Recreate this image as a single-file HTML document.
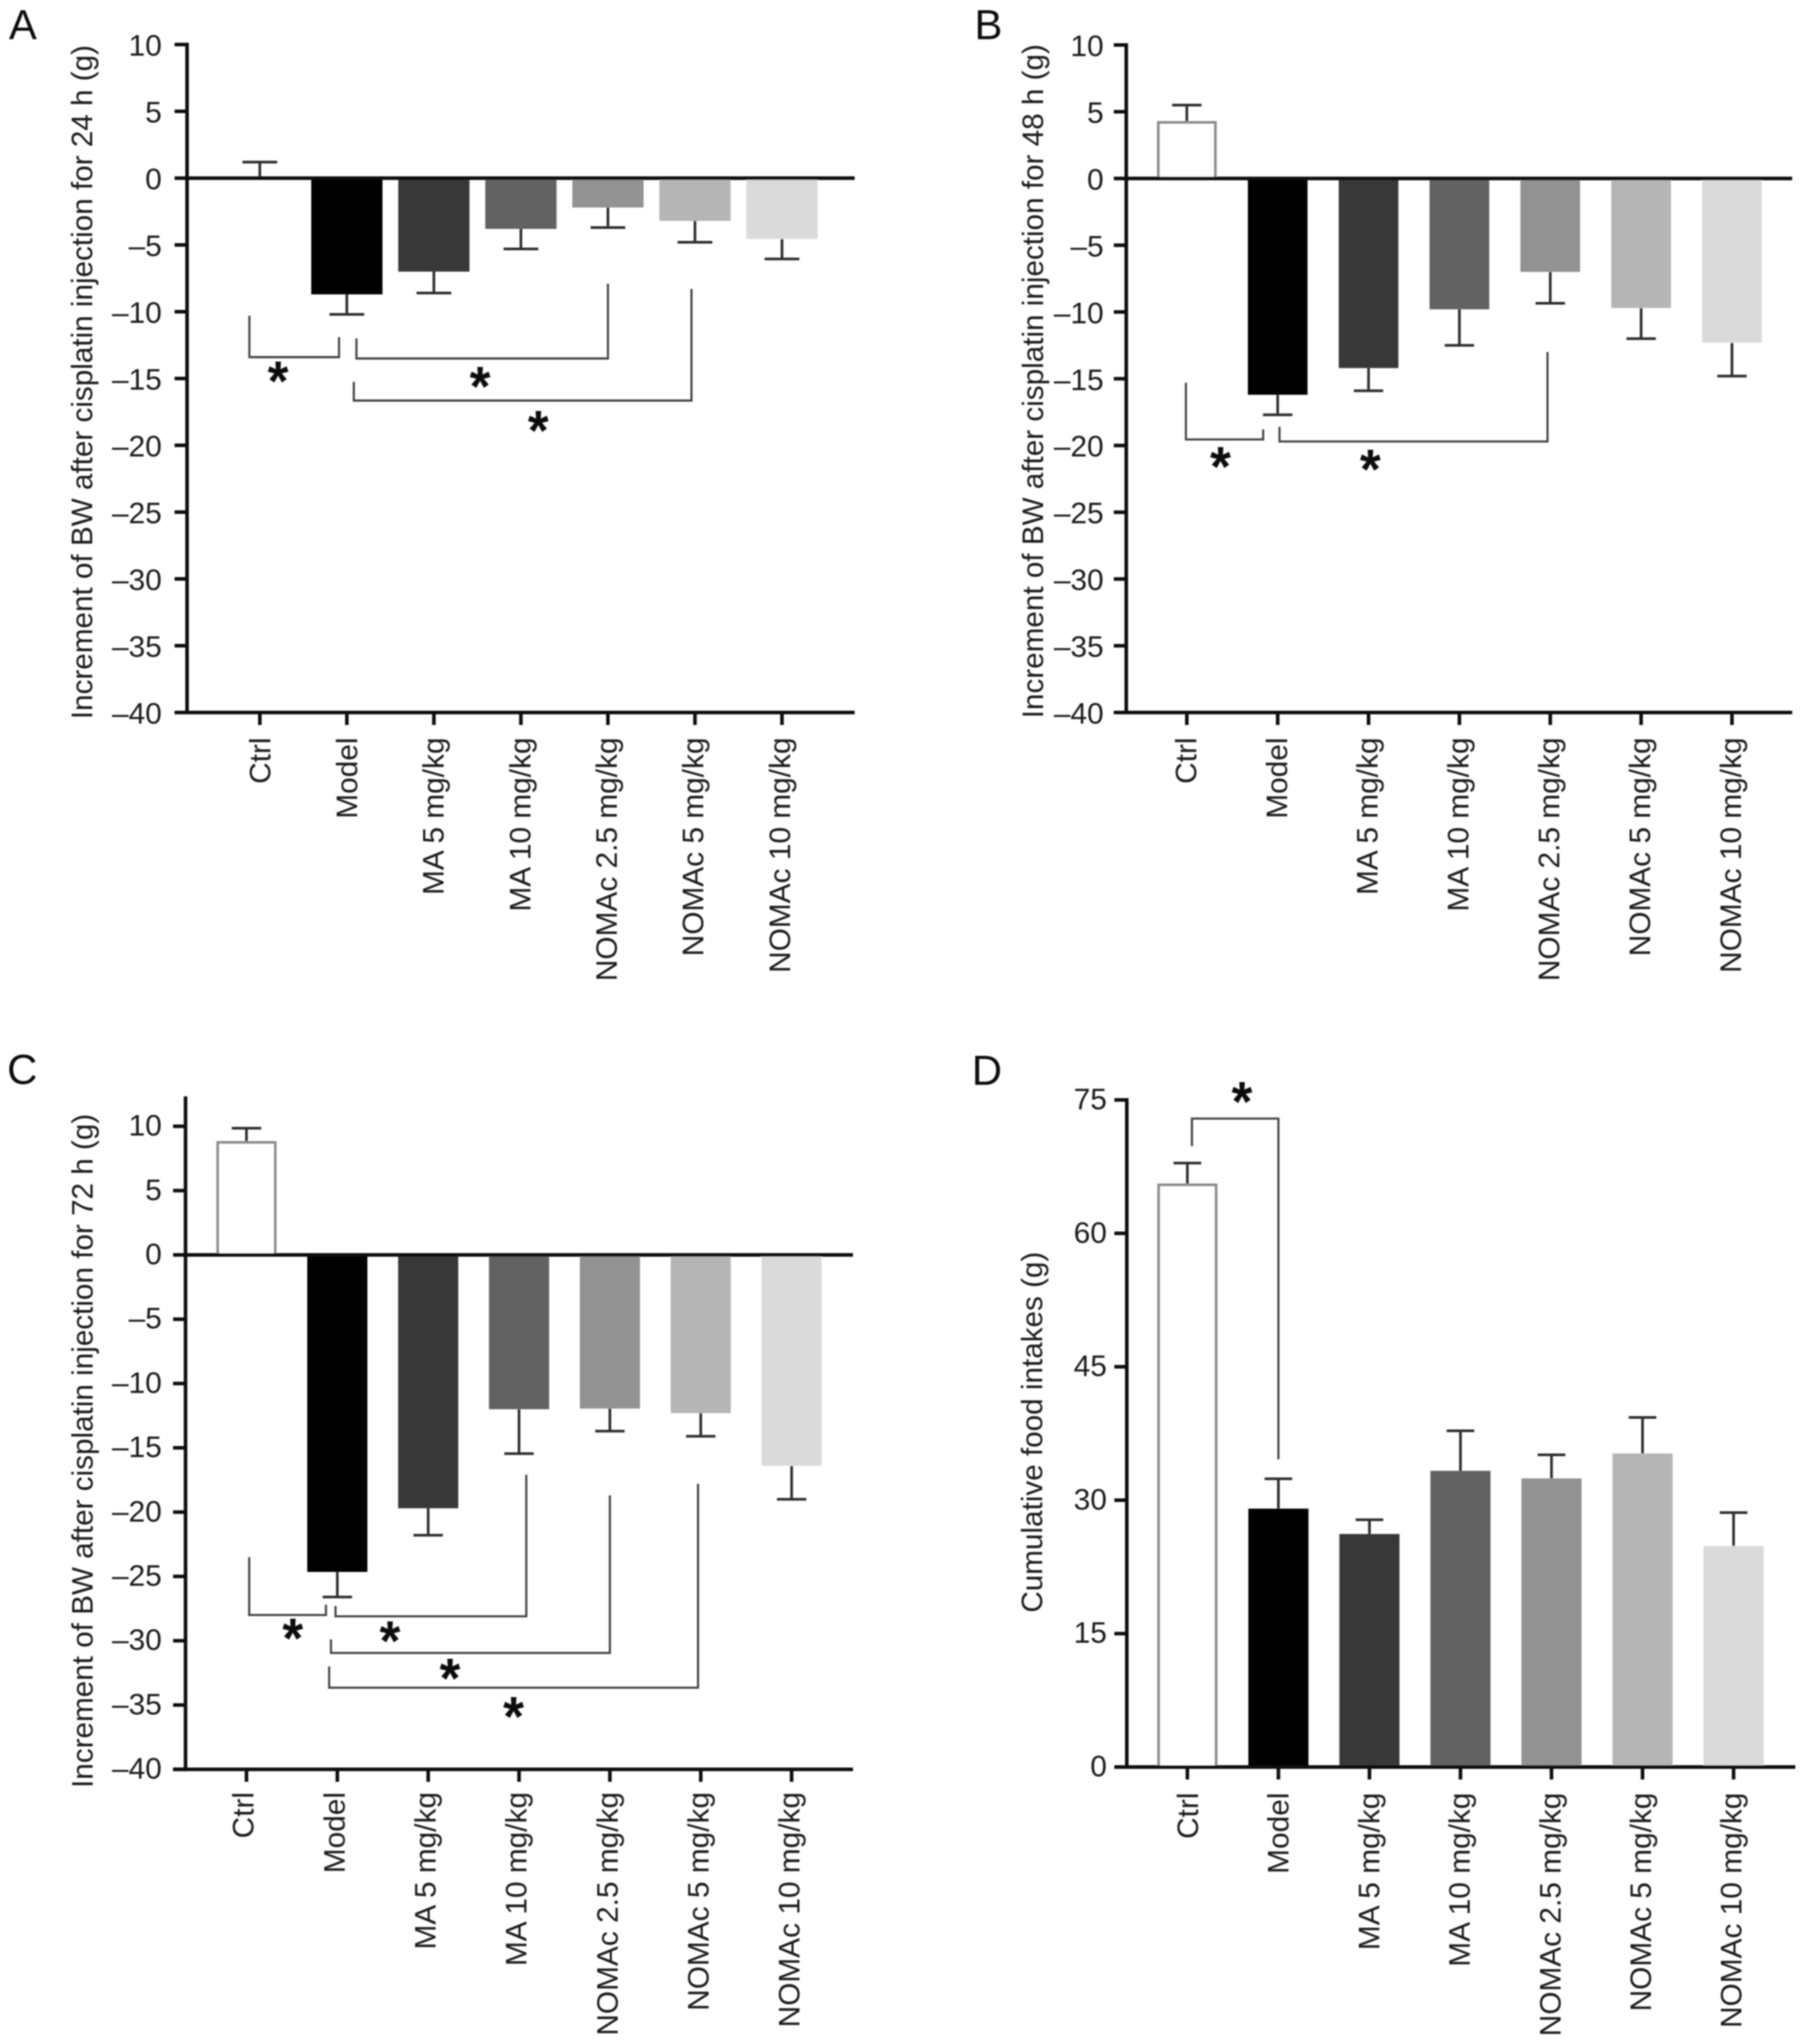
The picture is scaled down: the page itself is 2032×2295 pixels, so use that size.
<!DOCTYPE html>
<html lang="en">
<head>
<meta charset="utf-8">
<title>Body weight and food intake bar charts</title>
<style>
html,body{margin:0;padding:0;background:#fff;}
svg{display:block;font-family:"Liberation Sans",Arial,sans-serif;}
</style>
</head>
<body>
<svg id="figure" xmlns="http://www.w3.org/2000/svg" width="2032" height="2295" viewBox="0 0 2032 2295">
<defs><filter id="soft" x="0" y="0" width="100%" height="100%"><feGaussianBlur stdDeviation="0.7"/></filter></defs>
<rect width="2032" height="2295" fill="#fff"/>
<g id="root" filter="url(#soft)"></g>
</svg>
<script>
const categories = ['Ctrl','Model','MA 5 mg/kg','MA 10 mg/kg','NOMAc 2.5 mg/kg','NOMAc 5 mg/kg','NOMAc 10 mg/kg'];
const barFills = ['#ffffff','#000000','#383838','#626262','#929292','#b5b5b5','#dadada'];

const weightTicks = [10,5,0,-5,-10,-15,-20,-25,-30,-35,-40];
const foodTicks = [75,60,45,30,15,0];

const valuesA = [0,-8.7,-7.0,-3.8,-2.2,-3.2,-4.55];
const errorsA = [1.2,1.5,1.6,1.5,1.5,1.6,1.5];
const valuesB = [4.3,-16.2,-14.2,-9.8,-7.0,-9.7,-12.3];
const errorsB = [1.2,1.5,1.7,2.7,2.35,2.3,2.5];
const valuesC = [8.85,-24.65,-19.7,-12.0,-11.95,-12.3,-16.4];
const errorsC = [1.0,1.95,2.1,3.45,1.75,1.8,2.6];
const valuesD = [65.6,29.05,26.2,33.3,32.45,35.25,24.85];
const errorsD = [2.3,3.35,1.6,4.5,2.65,4.05,3.75];

/* significance brackets in chart units: [category start, value start, value bar, category end, value end] */
const bracketsA = [[-0.12,-10.3,-13.4,0.91,-11.9],[1.11,-12.0,-13.5,4.0,-7.9],[1.08,-15.25,-16.65,4.96,-8.3]];
const starsA = [[0.21,-14.6],[2.53,-15.0],[3.2,-18.3]];
const bracketsB = [[-0.01,-15.3,-19.55,0.84,-18.8],[1.02,-18.6,-19.7,3.97,-13.0]];
const starsB = [[0.37,-21.0],[2.02,-21.2]];
const bracketsC = [[0.03,-23.5,-28,0.875,-27.2],[0.98,-27.3,-28.1,3.08,-17.1],[0.93,-29.9,-30.95,4.0,-18.7],[0.91,-32,-33.65,4.97,-17.8]];
const starsC = [[0.51,-29.2],[1.58,-29.4],[2.24,-32.3],[2.94,-35.3]];
const bracketsD = [[0.05,69.8,72.9,1.0,34.6]];
const starsD = [[0.6,75.7]];

const panels = [
 {id:'a',letter:'A',lx:10,ly:44,title:'Increment of BW after cisplatin injection for 24 h (g)',tx:103.5,tc:429,
  values:valuesA,errors:errorsA,brackets:bracketsA,stars:starsA,ticks:weightTicks,dMin:-40,dMax:10,
  pxBottom:800,pxTop:50,axisTop:50,axisX:210,xEnd:959.5,x0:291.7,step:97.7,barW:80,cap:39,labelRight:181.7,tickDrop:12.5,labelTop:828,shiftFirst:12,shiftLast:9,zeroLine:true},
 {id:'b',letter:'B',lx:1094,ly:44,title:'Increment of BW after cisplatin injection for 48 h (g)',tx:1171,tc:428,
  values:valuesB,errors:errorsB,brackets:bracketsB,stars:starsB,ticks:weightTicks,dMin:-40,dMax:10,
  pxBottom:800,pxTop:50.5,axisTop:50.5,axisX:1264.4,xEnd:2012,x0:1332.4,step:102,barW:67,cap:33,labelRight:1239,tickDrop:12.5,labelTop:828,shiftFirst:10.5,shiftLast:10,zeroLine:true},
 {id:'c',letter:'C',lx:8,ly:1217,title:'Increment of BW after cisplatin injection for 72 h (g)',tx:104,tc:1629,
  values:valuesC,errors:errorsC,brackets:bracketsC,stars:starsC,ticks:weightTicks,dMin:-40,dMax:10,
  pxBottom:1986.6,pxTop:1264.6,axisTop:1233,axisX:208.3,xEnd:957.6,x0:276.7,step:102,barW:67.5,cap:33,labelRight:181.7,tickDrop:10.5,labelTop:2012,shiftFirst:8,shiftLast:9,zeroLine:true},
 {id:'d',letter:'D',lx:1091,ly:1218,title:'Cumulative food intakes (g)',tx:1170,tc:1608,
  values:valuesD,errors:errorsD,brackets:bracketsD,stars:starsD,ticks:foodTicks,dMin:0,dMax:75,
  pxBottom:1984,pxTop:1235,axisTop:1235,axisX:1265,xEnd:2015.6,x0:1333,step:102.2,barW:67.5,cap:31,labelRight:1242.7,tickDrop:10.5,labelTop:2012.7,shiftFirst:12,shiftLast:9,zeroLine:false}
];

const NS = 'http://www.w3.org/2000/svg';
const root = document.getElementById('root');

function create(tag, parent) {
  const el = document.createElementNS(NS, tag);
  parent.appendChild(el);
  return el;
}
function setLine(el, x1, y1, x2, y2, color, width) {
  el.setAttribute('x1', x1);
  el.setAttribute('y1', y1);
  el.setAttribute('x2', x2);
  el.setAttribute('y2', y2);
  el.setAttribute('stroke', color);
  el.setAttribute('stroke-width', width);
}
function fmtTick(v) {
  return v < 0 ? '\u2013' + Math.abs(v) : String(v);
}

panels.forEach(function (p) {
  const yScale = function (v) {
    return p.pxBottom - (v - p.dMin) * (p.pxBottom - p.pxTop) / (p.dMax - p.dMin);
  };
  const xScale = function (i) {
    return p.x0 + i * p.step;
  };

  const g = create('g', root);
  
  

  const letter = create('text', g);
  
  
  letter.setAttribute('x', p.lx);
  letter.setAttribute('y', p.ly);
  letter.setAttribute('font-size', 47);
  letter.setAttribute('fill', '#111');
  letter.textContent = p.letter;

  const title = create('text', g);
  
  
  title.setAttribute('transform', 'translate(' + p.tx + ',' + p.tc + ') rotate(-90)');
  title.setAttribute('text-anchor', 'middle');
  title.setAttribute('font-size', 33.3);
  title.setAttribute('fill', '#1a1a1a');
  title.textContent = p.title;

  /* bars */
  p.values.forEach(function (v, i) {
    const cx = xScale(i);
    const y0 = yScale(Math.max(v, 0));
    const y1 = yScale(Math.min(v, 0));
    const tip = v >= 0 ? v + p.errors[i] : v - p.errors[i];

    const stem = create('line', g);
    
    
    setLine(stem, cx, yScale(v), cx, yScale(tip), '#2e2e2e', 3);

    const cap = create('line', g);
    
    
    setLine(cap, cx - p.cap / 2, yScale(tip), cx + p.cap / 2, yScale(tip), '#2e2e2e', 3);

    if (y1 - y0 > 0.5) {
      const bar = create('rect', g);
      
      
      const outlined = i === 0;
      bar.setAttribute('x', cx - p.barW / 2 + (outlined ? 1.5 : 0));
      bar.setAttribute('y', y0 + (outlined ? 1.5 : 0));
      bar.setAttribute('width', p.barW - (outlined ? 3 : 0));
      bar.setAttribute('height', y1 - y0 - (outlined ? 1.5 : 0));
      bar.setAttribute('fill', barFills[i]);
      if (outlined) {
        bar.setAttribute('stroke', '#8a8a8a');
        bar.setAttribute('stroke-width', 3);
      }
    }
  });

  /* axes */
  const yAxis = create('line', g);
  
  
  setLine(yAxis, p.axisX, p.axisTop - 2, p.axisX, p.pxBottom + 2, '#111', 4);

  const xAxis = create('line', g);
  
  
  setLine(xAxis, p.axisX - 14, p.pxBottom, p.xEnd, p.pxBottom, '#111', 4);

  if (p.zeroLine) {
    const zero = create('line', g);
    
    
    setLine(zero, p.axisX, yScale(0), p.xEnd, yScale(0), '#111', 4);
  }

  p.ticks.forEach(function (t) {
    const tick = create('line', g);
    
    
    setLine(tick, p.axisX - 14, yScale(t), p.axisX, yScale(t), '#111', 4);

    const label = create('text', g);
    
    
    label.setAttribute('x', p.labelRight);
    label.setAttribute('y', yScale(t) + p.tickDrop);
    label.setAttribute('text-anchor', 'end');
    label.setAttribute('font-size', 33.5);
    label.setAttribute('fill', '#1a1a1a');
    label.textContent = fmtTick(t);
  });

  categories.forEach(function (name, i) {
    const cx = xScale(i);
    const tick = create('line', g);
    
    
    setLine(tick, cx, p.pxBottom, cx, p.pxBottom + 14, '#111', 4);

    const shift = p.shiftFirst + (p.shiftLast - p.shiftFirst) * i / (categories.length - 1);
    const label = create('text', g);
    
    
    label.setAttribute('transform', 'translate(' + (cx + shift) + ',' + p.labelTop + ') rotate(-90)');
    label.setAttribute('text-anchor', 'end');
    label.setAttribute('font-size', 33.5);
    label.setAttribute('fill', '#1a1a1a');
    label.textContent = name;
  });

  /* significance annotations */
  p.brackets.forEach(function (b) {
    const path = create('path', g);
    
    
    path.setAttribute('d', 'M' + xScale(b[0]) + ' ' + yScale(b[1]) + 'V' + yScale(b[2]) + 'H' + xScale(b[3]) + 'V' + yScale(b[4]));
    path.setAttribute('fill', 'none');
    path.setAttribute('stroke', '#444');
    path.setAttribute('stroke-width', 2.4);
  });
  p.stars.forEach(function (s) {
    const star = create('text', g);
    
    
    star.setAttribute('transform', 'translate(' + xScale(s[0]) + ',' + yScale(s[1]) + ') scale(1,1.05)');
    star.setAttribute('y', 29);
    star.setAttribute('text-anchor', 'middle');
    star.setAttribute('font-size', 60);
    star.setAttribute('font-weight', 'bold');
    star.setAttribute('fill', '#111');
    star.textContent = '*';
  });
});
</script>
</body>
</html>
